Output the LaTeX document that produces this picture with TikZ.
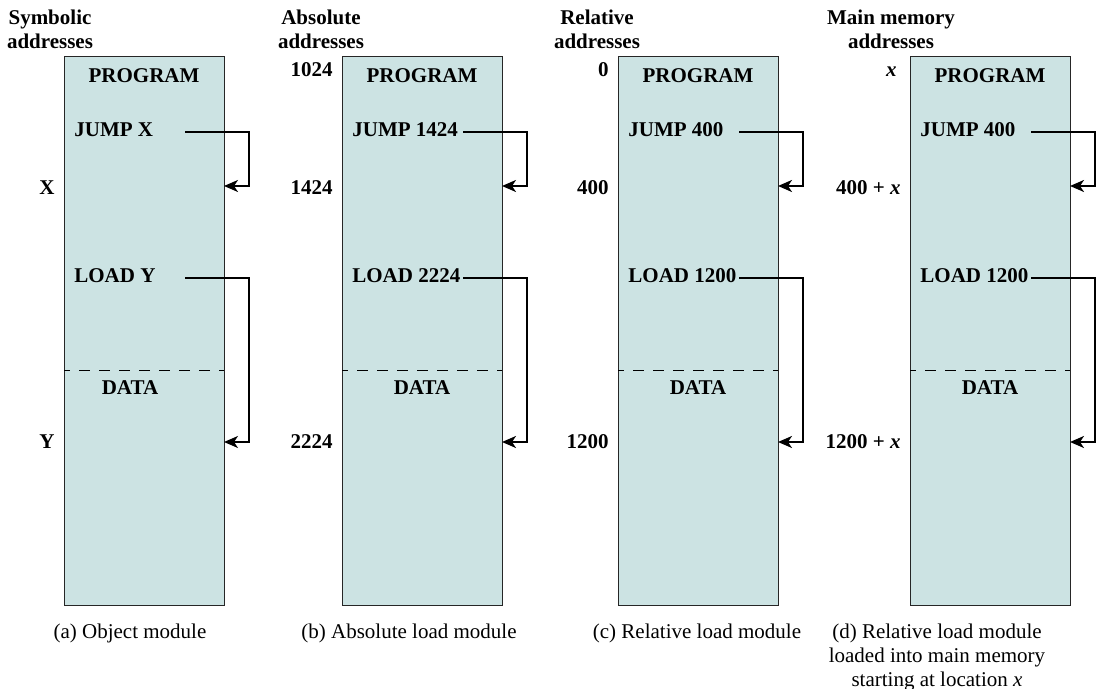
\documentclass[tikz,border=0pt]{standalone}
\usepackage{fontspec}
\setmainfont{Liberation Serif}
\usetikzlibrary{arrows.meta}
\definecolor{memfill}{RGB}{204,227,227}

\begin{document}
\begin{tikzpicture}[x=0.5pt,y=-0.5pt,font=\fontsize{10.5}{12}\selectfont,
  membox/.style={draw=black!85,line width=0.5pt,fill=memfill,
    minimum width=80pt,minimum height=274pt,inner sep=0pt},
  word/.style={font=\fontsize{10.5}{12}\selectfont\bfseries,inner sep=0pt,anchor=base},
  addr/.style={word,anchor=base east},
  title/.style={word,align=center,anchor=north},
  caption/.style={inner sep=0pt,align=center,anchor=north},
  link/.style={line width=1pt,-{Stealth[length=7pt,width=6pt,inset=2pt]}},
  split/.style={dash pattern=on 5.5pt off 4.5pt,dash phase=2.5pt,line width=0.4pt}]

  \useasboundingbox (0,0) rectangle (1103,689);

  % Column headings.
  \node[title] (tita) at (50,10) {Symbolic\\addresses};
  \node[title] (titb) at (321,10) {Absolute\\addresses};
  \node[title] (titc) at (597,10) {Relative\\addresses};
  \node[title] (titd) at (891,10) {Main memory\\addresses};

  % One module per column: box, contents, references.
  \foreach \i/\lx/\jmp/\xa/\ld/\ya/\dx in {
      a/64/{JUMP X}/{X}/{LOAD Y}/{Y}/66,
      b/342/{JUMP 1424}/{1424}/{LOAD 2224}/{2224}/80,
      c/618/{JUMP 400}/{400}/{LOAD 1200}/{1200}/80,
      d/910/{JUMP 400}/{400 + \textit{x}}/{LOAD 1200}/{1200 + \textit{x}}/80}
  {
    \node[membox] (mem\i) at (\lx+80,331) {};
    \draw[split] (\lx,370) -- (\lx+160,370);
    \node[word] (prog\i) at (\lx+80,83) {PROGRAM};
    \node[word,anchor=base west] (jump\i) at (\lx+10,137) {\jmp};
    \node[word,anchor=base west] (load\i) at (\lx+10,283) {\ld};
    \node[word] (data\i) at (\lx+\dx,395) {DATA};
    \node[addr] (xa\i) at (\lx-9,195) {\xa};
    \node[addr] (ya\i) at (\lx-9,449) {\ya};
    \coordinate (js\i) at (\lx+121,132);
    \coordinate (jt\i) at (\lx+160,186);
    \coordinate (ls\i) at (\lx+121,278);
    \coordinate (lt\i) at (\lx+160,442);
    \draw[link] (js\i) -- ++(64,0) |- (jt\i);
    \draw[link] (ls\i) -- ++(64,0) |- (lt\i);
  }

  % Start addresses.
  \node[addr] (topb) at (333,77) {1024};
  \node[addr] (topc) at (609,77) {0};
  \node[addr] (topd) at (897,77) {\textit{x}};

  % Captions.
  \node[caption] (capa) at (130,624) {(a) Object module};
  \node[caption] (capb) at (409,624) {(b) Absolute load module};
  \node[caption] (capc) at (697,624) {(c) Relative load module};
  \node[caption] (capd) at (937,624) {(d) Relative load module\\loaded into main memory\\starting at location \textit{x}};
\end{tikzpicture}
\end{document}
